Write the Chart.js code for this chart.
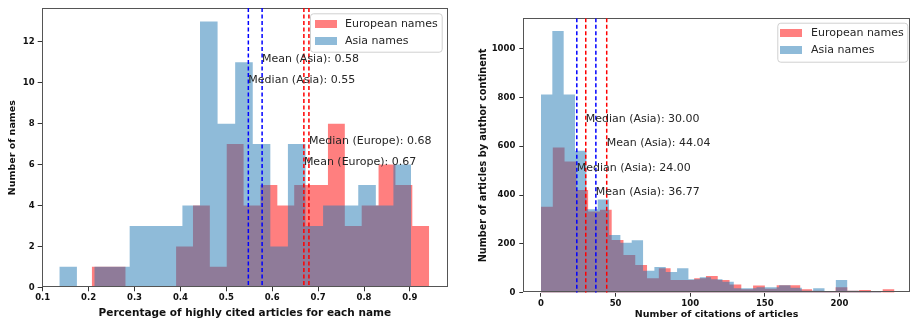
<!DOCTYPE html>
<html><head><meta charset="utf-8">
<script src="https://cdn.jsdelivr.net/npm/chart.js@4.4.0/dist/chart.umd.min.js"></script>
<style>
html,body{margin:0;padding:0;background:#fff;width:912px;height:326px;overflow:hidden}
.w{position:absolute;top:0;height:326px}
</style></head><body>
<div class="w" style="left:0;width:460px"><canvas id="c1"></canvas></div>
<div class="w" style="left:460px;width:452px"><canvas id="c2"></canvas></div>
<script>
// ---------- Left chart data ----------
const seriesNames = ['European names', 'Asia names'];
const leftEuropeCounts = [1,1,0,0,0,2,4,1,7,4,5,4,5,5,8,3,4,6,5,3];
const leftEuropeRange = [0.2068, 0.942];
const leftAsiaCounts = [1,0,1,1,3,3,3,4,13,8,11,7,2,7,3,4,4,5,4,6];
const leftAsiaRange = [0.1362, 0.9024];
const leftXTicks = [0.1,0.2,0.3,0.4,0.5,0.6,0.7,0.8,0.9];
const leftYTicks = [0,2,4,6,8,10,12];
const leftStatNames = ['Mean (Asia)', 'Median (Asia)', 'Median (Europe)', 'Mean (Europe)'];
const leftStatValues = [0.578, 0.548, 0.680, 0.669];
const leftStatGroup = ['asia', 'asia', 'europe', 'europe'];
const leftStatTextY = [11, 10, 7, 6];

// ---------- Right chart data ----------
const rightEuropeCounts = [352,595,537,420,332,340,216,154,113,59,100,52,52,59,68,52,34,14,29,16,30,30,14,8,5,22,8,11,2,14];
const rightEuropeRange = [0, 236.9];
const rightAsiaCounts = [812,1071,812,581,342,382,236,205,215,90,105,85,100,55,63,55,45,18,18,22,22,30,20,8,18,5,52,8,3,5];
const rightAsiaRange = [0, 228];
const rightXTicks = [0,50,100,150,200];
const rightYTicks = [0,200,400,600,800,1000];
const rightStatNames = ['Median (Asia)', 'Mean (Asia)', 'Median (Asia)', 'Mean (Asia)'];
const rightStatValues = [30.00, 44.04, 24.00, 36.77];
const rightStatGroup = ['europe', 'europe', 'asia', 'asia'];
const rightStatTextY = [700, 600, 500, 400];

// ---------- styling ----------
const FONT = '"DejaVu Sans", sans-serif';
Chart.defaults.font.family = FONT;
Chart.defaults.color = '#000';
const fillColors = {europe: 'rgba(255,0,0,0.5)', asia: 'rgba(31,119,180,0.5)'};
const lineColors = {europe: '#ff0000', asia: '#0000ff'};

function histPoints(counts, range) {
  const n = counts.length, w = (range[1] - range[0]) / n;
  const pts = counts.map((c, i) => ({x: range[0] + i * w, y: c}));
  pts.push({x: range[1], y: 0});
  return pts;
}

const overlay = {
  id: 'overlay',
  afterDatasetsDraw(chart, args, o) {
    const {ctx, chartArea: a, scales: {x, y}} = chart;
    ctx.save();
    // frame
    ctx.strokeStyle = '#555'; ctx.lineWidth = 1;
    ctx.strokeRect(Math.round(a.left) + 0.5, Math.round(a.top) + 0.5, Math.round(a.right - a.left) - 1, Math.round(a.bottom - a.top) - 1);
    // dashed lines
    ctx.save();
    ctx.beginPath(); ctx.rect(a.left, a.top, a.right - a.left, a.bottom - a.top); ctx.clip();
    ctx.lineWidth = 1.5; ctx.setLineDash([4, 2.5]);
    o.values.forEach((v, i) => {
      const px = x.getPixelForValue(v);
      ctx.strokeStyle = lineColors[o.groups[i]];
      ctx.beginPath(); ctx.moveTo(px, a.top); ctx.lineTo(px, a.bottom); ctx.stroke();
    });
    ctx.restore();
    // texts
    ctx.font = '11px ' + FONT; ctx.fillStyle = '#262626';
    ctx.textAlign = 'left'; ctx.textBaseline = 'alphabetic';
    o.values.forEach((v, i) => {
      ctx.fillText(o.names[i] + ': ' + v.toFixed(2), x.getPixelForValue(v), y.getPixelForValue(o.textY[i]));
    });
    // legend
    const L = o.legend;
    ctx.fillStyle = 'rgba(255,255,255,0.8)'; ctx.strokeStyle = '#d0d0d0'; ctx.lineWidth = 1;
    ctx.beginPath();
    ctx.roundRect(L.x + 0.5, L.y + 0.5, L.w, L.h, 3);
    ctx.fill(); ctx.stroke();
    const items = [chart.data.datasets[1], chart.data.datasets[0]];
    items.forEach((ds, i) => {
      const cy = L.y0 + i * L.dy;
      ctx.fillStyle = ds.backgroundColor;
      ctx.fillRect(L.px, cy - 4, 22, 8);
      ctx.fillStyle = '#262626'; ctx.font = '11px ' + FONT;
      ctx.textBaseline = 'middle';
      ctx.fillText(ds.label, L.tx, cy);
    });
    ctx.restore();
  }
};

function makeChart(id, cfg) {
  return new Chart(document.getElementById(id), {
    type: 'line',
    data: {datasets: [
      {label: seriesNames[1], data: histPoints(cfg.asia, cfg.asiaRange), stepped: true, fill: 'origin',
       backgroundColor: fillColors.asia, borderWidth: 0, pointRadius: 0, tension: 0},
      {label: seriesNames[0], data: histPoints(cfg.europe, cfg.europeRange), stepped: true, fill: 'origin',
       backgroundColor: fillColors.europe, borderWidth: 0, pointRadius: 0, tension: 0}
    ]},
    options: {
      responsive: true, maintainAspectRatio: false, animation: false, events: [],
      layout: {padding: cfg.padding},
      plugins: {legend: {display: false}, tooltip: {enabled: false}, overlay: cfg.overlay},
      scales: {
        x: {type: 'linear', min: cfg.xmin, max: cfg.xmax,
            afterFit: s => { s.height = cfg.xh; },
            afterBuildTicks: s => { s.ticks = cfg.xticks.map(v => ({value: v})); },
            grid: {display: true, drawOnChartArea: false, drawTicks: true, tickLength: 4, tickColor: '#333'},
            border: {display: false},
            ticks: {font: {size: cfg.tickSize, weight: 'bold'}, color: '#111', padding: cfg.xpad, maxRotation: 0,
                    callback: cfg.xfmt},
            title: {display: true, text: cfg.xtitle, font: {size: cfg.xtSize, weight: 'bold'}, color: '#111', padding: {top: 0, bottom: cfg.xtPad}}},
        y: {type: 'linear', min: 0, max: cfg.ymax,
            afterFit: s => { s.width = cfg.yw; },
            afterBuildTicks: s => { s.ticks = cfg.yticks.map(v => ({value: v})); },
            grid: {display: true, drawOnChartArea: false, drawTicks: true, tickLength: 4, tickColor: '#333'},
            border: {display: false},
            ticks: {font: {size: cfg.tickSize, weight: 'bold'}, color: '#111', padding: cfg.ypad, callback: v => String(v)},
            title: {display: true, text: cfg.ytitle, font: {size: cfg.ytSize, weight: 'bold'}, color: '#111', padding: {top: cfg.ytPad, bottom: 0}}}
      }
    },
    plugins: [overlay]
  });
}

makeChart('c1', {
  asia: leftAsiaCounts, asiaRange: leftAsiaRange, europe: leftEuropeCounts, europeRange: leftEuropeRange,
  xmin: 0.0978, xmax: 0.983, ymax: 13.65, xticks: leftXTicks, yticks: leftYTicks,
  xfmt: v => v.toFixed(1),
  padding: {top: 8, right: 12, left: 0, bottom: 0}, xh: 38.7, yw: 41.7,
  tickSize: 8.5, xpad: 1, ypad: 3,
  xtitle: 'Percentage of highly cited articles for each name', xtSize: 10.5, xtPad: 6.7,
  ytitle: 'Number of names', ytSize: 9.5, ytPad: 7,
  overlay: {values: leftStatValues, names: leftStatNames, groups: leftStatGroup, textY: leftStatTextY,
    legend: {x: 310, y: 13.3, w: 131.7, h: 38.4, px: 315, tx: 345, y0: 24, dy: 17}}
});

makeChart('c2', {
  asia: rightAsiaCounts, asiaRange: rightAsiaRange, europe: rightEuropeCounts, europeRange: rightEuropeRange,
  xmin: -11.86, xmax: 247.3, ymax: 1123.5, xticks: rightXTicks, yticks: rightYTicks,
  xfmt: v => String(v),
  padding: {top: 18.3, right: 2, left: 0, bottom: 0}, xh: 33.3, yw: 63.3,
  tickSize: 8.5, xpad: 2, ypad: 4,
  xtitle: 'Number of citations of articles', xtSize: 9.5, xtPad: 5.3,
  ytitle: 'Number of articles by author continent', ytSize: 9.7, ytPad: 17.2,
  overlay: {values: rightStatValues, names: rightStatNames, groups: rightStatGroup, textY: rightStatTextY,
    legend: {x: 317.3, y: 22.7, w: 130, h: 39, px: 320, tx: 351, y0: 33, dy: 17}}
});
</script>
</body></html>
